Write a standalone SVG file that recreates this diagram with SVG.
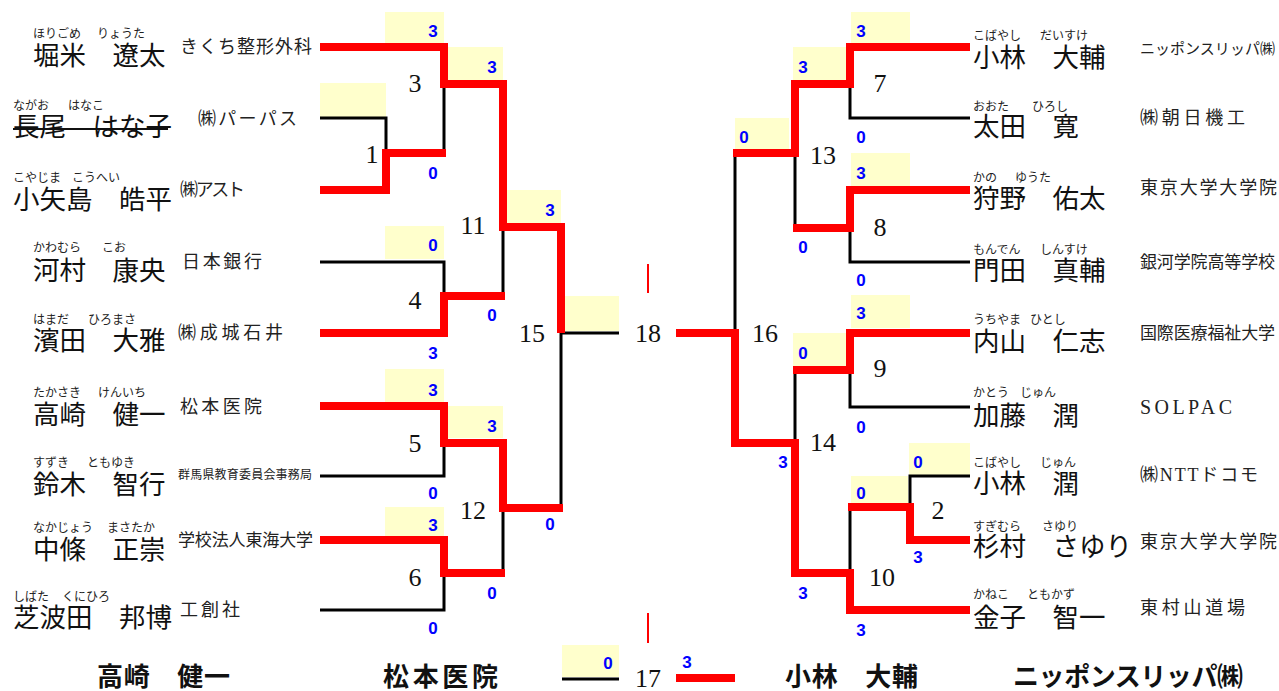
<svg xmlns="http://www.w3.org/2000/svg" width="1279" height="691" viewBox="0 0 1279 691">
<style>
.nm{font-family:"Noto Sans CJK JP","Noto Sans CJK SC",sans-serif;font-size:26.5px;fill:#111}
.fu{font-family:"Noto Sans CJK JP","Noto Sans CJK SC",sans-serif;font-size:12px;fill:#222}
.og{font-family:"Noto Sans CJK JP","Noto Sans CJK SC",sans-serif;font-size:18px;fill:#222}
.ogs{font-family:"Liberation Serif","Noto Sans CJK JP",serif;font-size:20px;fill:#222}
.mn{font-family:"Liberation Serif",serif;font-size:26px;fill:#111;text-anchor:middle}
.sc{font-family:"Liberation Sans",Arial,sans-serif;font-weight:bold;font-size:17px;fill:#0000ff;text-anchor:middle}
.bx{fill:#ffffcc}
.rd{fill:none;stroke:#ff0000;stroke-width:8;stroke-linejoin:miter}
.bk{fill:none;stroke:#000;stroke-width:3}
.tk{fill:none;stroke:#ff0000;stroke-width:2}
.bt{font-family:"Noto Sans CJK JP","Noto Sans CJK SC",sans-serif;font-size:26px;font-weight:bold;fill:#111}
</style>

<g id="boxes">
<rect class="bx" x="385" y="12" width="59" height="31"/>
<rect class="bx" x="448" y="47" width="55" height="33"/>
<rect class="bx" x="320" y="83" width="66" height="34"/>
<rect class="bx" x="507" y="190" width="54" height="33"/>
<rect class="bx" x="385" y="226" width="59" height="33"/>
<rect class="bx" x="562" y="296" width="57" height="35"/>
<rect class="bx" x="385" y="369" width="59" height="33"/>
<rect class="bx" x="448" y="406" width="55" height="32"/>
<rect class="bx" x="385" y="507" width="59" height="30"/>
<rect class="bx" x="562" y="645" width="57" height="32"/>
<rect class="bx" x="851" y="12" width="59" height="31"/>
<rect class="bx" x="793" y="47" width="54" height="33"/>
<rect class="bx" x="735" y="118" width="54" height="32"/>
<rect class="bx" x="851" y="153" width="59" height="34"/>
<rect class="bx" x="851" y="295" width="59" height="33"/>
<rect class="bx" x="793" y="333" width="54" height="33"/>
<rect class="bx" x="909" y="443" width="61" height="32"/>
<rect class="bx" x="851" y="476" width="57" height="27"/>
</g>

<g id="connectors">
<path class="bk" d="M320,118 H386 V153"/>
<path class="bk" d="M444,84 V153"/>
<path class="bk" d="M320,262 H444 V296"/>
<path class="bk" d="M503,227 V296"/>
<path class="bk" d="M320,476 H444 V443"/>
<path class="bk" d="M561,333 V508"/>
<path class="bk" d="M561,333 H619"/>
<path class="bk" d="M320,610 H444 V573"/>
<path class="bk" d="M503,508 V573"/>
<path class="bk" d="M562,679 H619"/>
<path class="bk" d="M735,153 V333"/>
<path class="bk" d="M970,118 H850 V84"/>
<path class="bk" d="M970,262 H850 V228"/>
<path class="bk" d="M795,153 V228"/>
<path class="bk" d="M970,407 H850 V370"/>
<path class="bk" d="M795,370 V443"/>
<path class="bk" d="M970,476 H910 V507"/>
<path class="bk" d="M850,507 V573"/>

<path class="rd" d="M320,47 H444 V84 H503 V227 H561 V333"/>
<path class="rd" d="M320,190 H386 V153 H446"/>
<path class="rd" d="M320,333 H444 V296 H505"/>
<path class="rd" d="M320,406 H444 V443 H503 V508 H563"/>
<path class="rd" d="M320,540 H444 V573 H505"/>
<path class="rd" d="M676,678 H735"/>
<path class="rd" d="M970,47 H850 V84 H795 V153 H733"/>
<path class="rd" d="M970,190 H850 V228 H793"/>
<path class="rd" d="M970,333 H850 V370 H793"/>
<path class="rd" d="M970,540 H910 V507 H848"/>
<path class="rd" d="M676,333 H735 V443 H795 V573 H850 V610 H970"/>
<path class="tk" d="M648,264 V293"/>
<path class="tk" d="M648,613 V643"/>
</g>

<g id="match-numbers">
<text class="mn" x="372" y="163">1</text>
<text class="mn" x="415" y="92">3</text>
<text class="mn" x="415" y="309">4</text>
<text class="mn" x="415" y="452">5</text>
<text class="mn" x="415" y="586">6</text>
<text class="mn" x="473" y="234">11</text>
<text class="mn" x="473" y="519">12</text>
<text class="mn" x="532" y="342">15</text>
<text class="mn" x="648" y="342">18</text>
<text class="mn" x="648" y="687">17</text>
<text class="mn" x="765" y="342">16</text>
<text class="mn" x="823" y="164">13</text>
<text class="mn" x="823" y="451">14</text>
<text class="mn" x="880" y="92">7</text>
<text class="mn" x="880" y="236">8</text>
<text class="mn" x="880" y="377">9</text>
<text class="mn" x="938" y="519">2</text>
<text class="mn" x="882" y="586">10</text>
</g>

<g id="scores">
<text class="sc" x="433" y="37">3</text>
<text class="sc" x="492" y="73">3</text>
<text class="sc" x="433" y="179">0</text>
<text class="sc" x="550" y="216">3</text>
<text class="sc" x="433" y="251">0</text>
<text class="sc" x="492" y="321">0</text>
<text class="sc" x="433" y="359">3</text>
<text class="sc" x="433" y="396">3</text>
<text class="sc" x="492" y="432">3</text>
<text class="sc" x="433" y="499">0</text>
<text class="sc" x="550" y="530">0</text>
<text class="sc" x="433" y="531">3</text>
<text class="sc" x="492" y="599">0</text>
<text class="sc" x="433" y="634">0</text>
<text class="sc" x="608" y="669">0</text>
<text class="sc" x="687" y="668">3</text>
<text class="sc" x="861" y="37">3</text>
<text class="sc" x="803" y="73">3</text>
<text class="sc" x="744" y="143">0</text>
<text class="sc" x="861" y="143">0</text>
<text class="sc" x="861" y="179">3</text>
<text class="sc" x="803" y="253">0</text>
<text class="sc" x="861" y="286">0</text>
<text class="sc" x="861" y="319">3</text>
<text class="sc" x="803" y="359">0</text>
<text class="sc" x="861" y="433">0</text>
<text class="sc" x="783" y="468">3</text>
<text class="sc" x="918" y="468">0</text>
<text class="sc" x="861" y="499">0</text>
<text class="sc" x="918" y="563">3</text>
<text class="sc" x="803" y="599">3</text>
<text class="sc" x="861" y="636">3</text>
</g>

<g id="p-horigome">
<text class="fu" x="33" y="38">ほりごめ</text><text class="fu" x="97" y="38">りょうた</text>
<text class="nm" x="33" y="65">堀米　遼太</text>
<text class="og" x="180" y="53" textLength="132" lengthAdjust="spacing">きくち整形外科</text>
</g>
<g id="p-nagao">
<text class="fu" x="13" y="110">ながお</text><text class="fu" x="68" y="110">はなこ</text>
<text class="nm" x="13" y="136">長尾　はな子</text>
<line x1="13" y1="129" x2="168" y2="129" stroke="#111" stroke-width="2"/>
<text class="og" x="198" y="125" textLength="99" lengthAdjust="spacing">㈱パーパス</text>
</g>
<g id="p-koyajima">
<text class="fu" x="13" y="182">こやじま</text><text class="fu" x="72" y="182">こうへい</text>
<text class="nm" x="13" y="209">小矢島　皓平</text>
<text class="og" x="180" y="196" textLength="65" lengthAdjust="spacing">㈱アスト</text>
</g>
<g id="p-kawamura">
<text class="fu" x="33" y="252">かわむら</text><text class="fu" x="102" y="252">こお</text>
<text class="nm" x="33" y="280">河村　康央</text>
<text class="og" x="182" y="268" textLength="80" lengthAdjust="spacing">日本銀行</text>
</g>
<g id="p-hamada">
<text class="fu" x="33" y="324">はまだ</text><text class="fu" x="88" y="324">ひろまさ</text>
<text class="nm" x="33" y="350">濱田　大雅</text>
<text class="og" x="178" y="339" textLength="105" lengthAdjust="spacing">㈱成城石井</text>
</g>
<g id="p-takasaki">
<text class="fu" x="33" y="397">たかさき</text><text class="fu" x="98" y="397">けんいち</text>
<text class="nm" x="33" y="424">高崎　健一</text>
<text class="og" x="180" y="413" textLength="82" lengthAdjust="spacing">松本医院</text>
</g>
<g id="p-suzuki">
<text class="fu" x="33" y="467">すずき</text><text class="fu" x="87" y="467">ともゆき</text>
<text class="nm" x="33" y="494">鈴木　智行</text>
<text class="og" x="178" y="479" style="font-size:12px" textLength="134" lengthAdjust="spacing">群馬県教育委員会事務局</text>
</g>
<g id="p-nakajo">
<text class="fu" x="33" y="532">なかじょう</text><text class="fu" x="107" y="532">まさたか</text>
<text class="nm" x="33" y="559">中條　正崇</text>
<text class="og" x="178" y="546" style="font-size:17px" textLength="135" lengthAdjust="spacing">学校法人東海大学</text>
</g>
<g id="p-shibata">
<text class="fu" x="13" y="601">しばた</text><text class="fu" x="62" y="601">くにひろ</text>
<text class="nm" x="13" y="627">芝波田　邦博</text>
<text class="og" x="180" y="616" textLength="60" lengthAdjust="spacing">工創社</text>
</g>

<g id="p-kobayashi-d">
<text class="fu" x="973" y="40">こばやし</text><text class="fu" x="1040" y="40">だいすけ</text>
<text class="nm" x="973" y="67">小林　大輔</text>
<text class="og" x="1140" y="54" style="font-size:15px" textLength="135" lengthAdjust="spacing">ニッポンスリッパ㈱</text>
</g>
<g id="p-ota">
<text class="fu" x="973" y="111">おおた</text><text class="fu" x="1032" y="111">ひろし</text>
<text class="nm" x="973" y="136">太田　寛</text>
<text class="og" x="1140" y="124" textLength="105" lengthAdjust="spacing">㈱朝日機工</text>
</g>
<g id="p-kano">
<text class="fu" x="973" y="182">かの</text><text class="fu" x="1015" y="182">ゆうた</text>
<text class="nm" x="973" y="208">狩野　佑太</text>
<text class="og" x="1140" y="194" textLength="137" lengthAdjust="spacing">東京大学大学院</text>
</g>
<g id="p-monden">
<text class="fu" x="973" y="254">もんでん</text><text class="fu" x="1040" y="254">しんすけ</text>
<text class="nm" x="973" y="280">門田　真輔</text>
<text class="og" x="1140" y="268" style="font-size:17px" textLength="135" lengthAdjust="spacing">銀河学院高等学校</text>
</g>
<g id="p-uchiyama">
<text class="fu" x="973" y="324">うちやま</text><text class="fu" x="1030" y="324">ひとし</text>
<text class="nm" x="973" y="351">内山　仁志</text>
<text class="og" x="1140" y="339" style="font-size:17px" textLength="135" lengthAdjust="spacing">国際医療福祉大学</text>
</g>
<g id="p-kato">
<text class="fu" x="973" y="397">かとう</text><text class="fu" x="1020" y="397">じゅん</text>
<text class="nm" x="973" y="425">加藤　潤</text>
<text class="ogs" x="1140" y="414" textLength="92" lengthAdjust="spacing">SOLPAC</text>
</g>
<g id="p-kobayashi-j">
<text class="fu" x="973" y="467">こばやし</text><text class="fu" x="1040" y="467">じゅん</text>
<text class="nm" x="973" y="493">小林　潤</text>
<text class="og" x="1140" y="481" textLength="118" lengthAdjust="spacing">㈱<tspan style="font-family:'Liberation Serif',serif">NTT</tspan>ドコモ</text>
</g>
<g id="p-sugimura">
<text class="fu" x="973" y="531">すぎむら</text><text class="fu" x="1042" y="531">さゆり</text>
<text class="nm" x="973" y="556">杉村　さゆり</text>
<text class="og" x="1140" y="548" textLength="137" lengthAdjust="spacing">東京大学大学院</text>
</g>
<g id="p-kaneko">
<text class="fu" x="973" y="599">かねこ</text><text class="fu" x="1027" y="599">ともかず</text>
<text class="nm" x="973" y="627">金子　智一</text>
<text class="og" x="1140" y="614" textLength="105" lengthAdjust="spacing">東村山道場</text>
</g>

<g id="result">
<text class="bt" x="97" y="686" textLength="133" lengthAdjust="spacing">高崎　健一</text>
<text class="bt" x="383" y="686" textLength="115" lengthAdjust="spacing">松本医院</text>
<text class="bt" x="785" y="686" textLength="133" lengthAdjust="spacing">小林　大輔</text>
<text class="bt" x="1013" y="686" textLength="230" lengthAdjust="spacing">ニッポンスリッパ㈱</text>
</g>
</svg>
